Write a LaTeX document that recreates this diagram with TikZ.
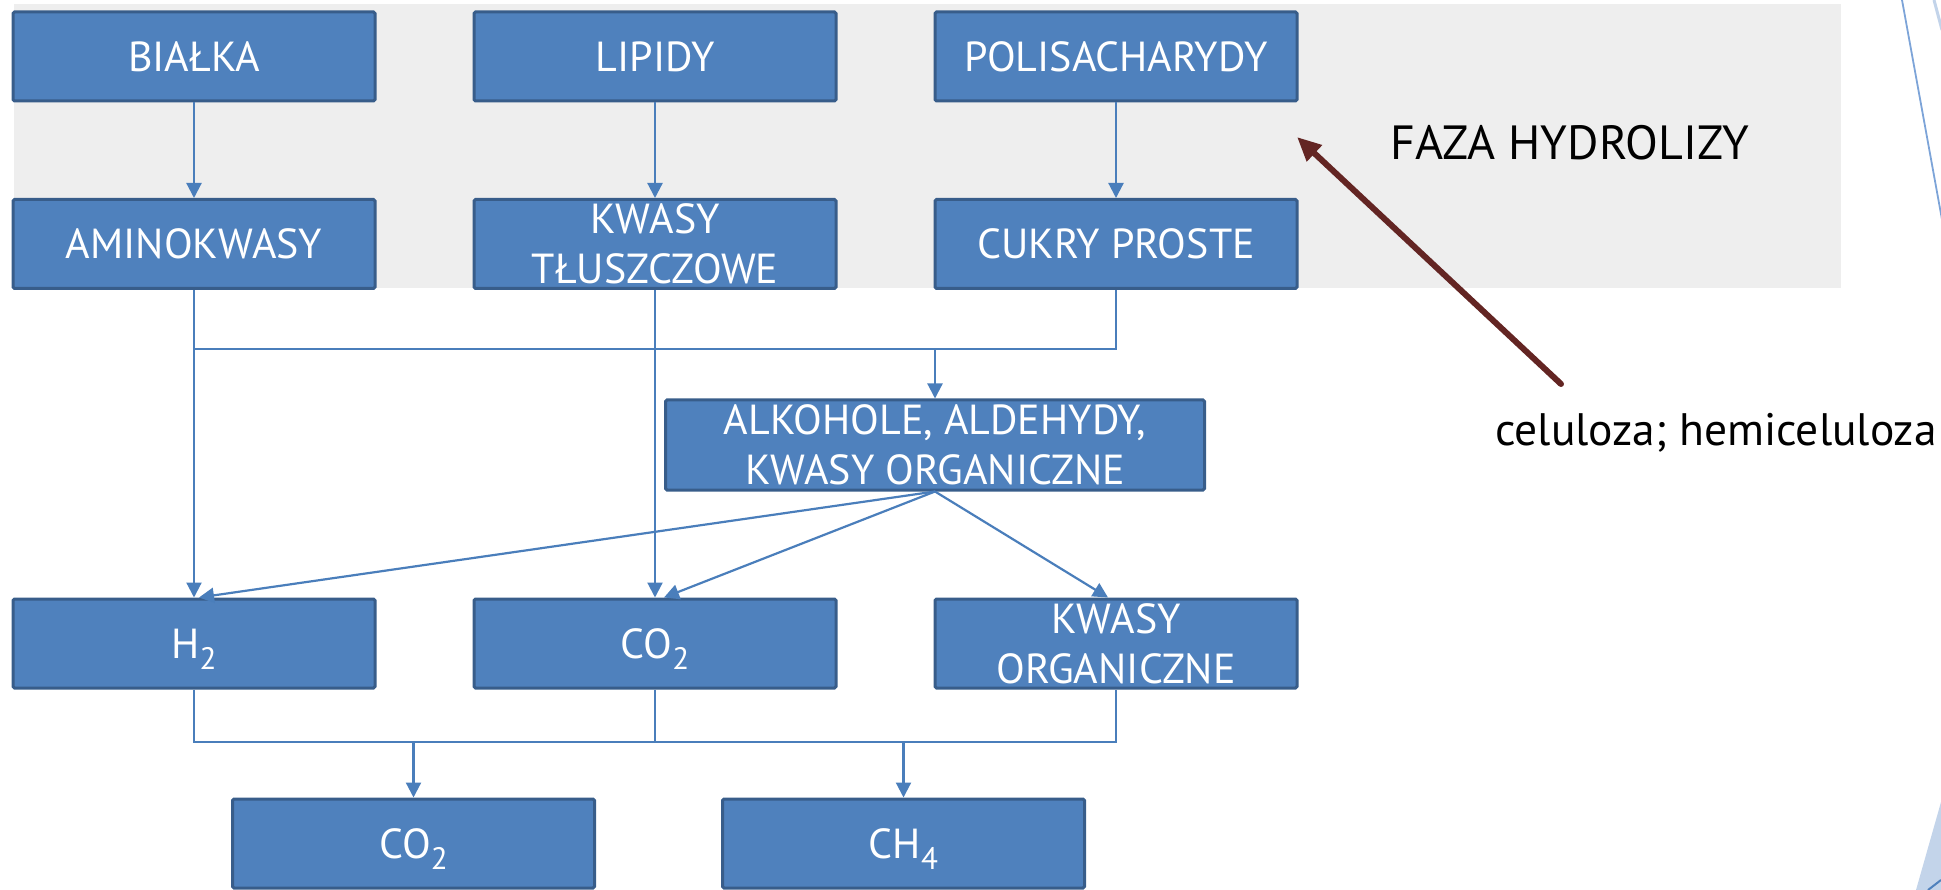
\documentclass[tikz,border=0pt]{standalone}
\usepackage{fontspec}
\setmainfont{PT Sans}
\usetikzlibrary{arrows.meta}
\definecolor{boxfill}{HTML}{4F81BD}
\definecolor{boxline}{HTML}{385D8A}
\definecolor{connc}{HTML}{4A7EBB}
\definecolor{bandgray}{HTML}{EEEEEE}
\definecolor{brownc}{HTML}{632523}
\definecolor{decoblue}{HTML}{7DA4D8}
\definecolor{lightdeco}{HTML}{C3D4EA}
\newcommand\boxfont{\fontsize{42}{50}\selectfont}
\newcommand\chemsub[1]{\raisebox{-11pt}[0pt][0pt]{\fontsize{31}{31}\selectfont #1}}
\tikzset{
  box/.style={draw=boxline, fill=boxfill, line width=3pt, rounded corners=1.5pt,
    minimum width=362pt, minimum height=89pt, inner sep=0pt, text=white,
    font=\boxfont, align=center},
  conn/.style={draw=connc, line width=2.2pt},
  arr/.style={conn, -{Triangle[length=15pt,width=15pt]}},
  brownarr/.style={draw=brownc, line width=6pt, line cap=round,
    -{Triangle[length=24pt,width=21pt]}},
  sidetext/.style={text=black, inner sep=0pt}
}
\begin{document}
\begin{tikzpicture}[x=1pt,y=-1pt]
\useasboundingbox (0,0) rectangle (1941,890);
% background band
\fill[bandgray] (14,4) rectangle (1841,288);
% decorations at right edge
\draw[decoblue, line width=1.8pt] (1902,0) -- (1943,225);
\draw[lightdeco, line width=3pt] (1934,0) -- (1942,30);
\fill[lightdeco] (1941,802) -- (1916,890) -- (1941,890) -- cycle;
\draw[boxfill, line width=2pt] (1928,890) -- (1941,880);

% boxes
\node[box] (bialka) at (194,56.5) {BIAŁKA};
\node[box] (lipidy) at (655,56.5) {LIPIDY};
\node[box] (polisach) at (1116,56.5) {POLISACHARYDY};
\node[box] (amino) at (194,244) {AMINOKWASY};
\node[box] (kt) at (655,244) {KWASY\\TŁUSZCZOWE};
\node[box] (cukry) at (1116,244) {CUKRY PROSTE};
\node[box, minimum width=539pt, minimum height=90pt] (alk) at (935,445) {ALKOHOLE, ALDEHYDY,\\KWASY ORGANICZNE};
\node[box] (h2) at (194,643.5) {H\chemsub{2}};
\node[box] (co2a) at (655,643.5) {CO\chemsub{2}};
\node[box] (ko) at (1116,643.5) {KWASY\\ORGANICZNE};
\node[box] (co2b) at (413.5,843.5) {CO\chemsub{2}};
\node[box] (ch4) at (903.5,843.5) {CH\chemsub{4}};

% connectors
\draw[arr] (bialka.south) -- (amino.north);
\draw[arr] (lipidy.south) -- (kt.north);
\draw[arr] (polisach.south) -- (cukry.north);
\coordinate (j1) at (194,349);
\draw[arr] (amino.south) -- (h2.north);
\draw[conn] (j1) -- (j1 -| cukry.south) -- (cukry.south);
\draw[arr] (j1 -| alk.north) -- (alk.north);
\draw[arr] (kt.south) -- (co2a.north);
\draw[arr] (alk.south) -- ([xshift=5pt]h2.north);
\draw[arr] (alk.south) -- ([xshift=9pt]co2a.north);
\draw[arr] (alk.south) -- ([xshift=-8pt]ko.north);
\coordinate (j2) at (194,742);
\draw[conn] (h2.south) -- (j2) -- (j2 -| ko.south) -- (ko.south);
\draw[conn] (co2a.south) -- (co2a.south |- j2);
\draw[arr] (j2 -| co2b.north) -- (co2b.north);
\draw[arr] (j2 -| ch4.north) -- (ch4.north);

% side labels
\node[sidetext, anchor=base west, font=\fontsize{48}{48}\selectfont] (faza) at (1390,160) {FAZA HYDROLIZY};
\node[sidetext, anchor=base west, font=\fontsize{45.5}{45.5}\selectfont] (cel) at (1495,445) {celuloza; hemiceluloza};
\coordinate (celtail) at (1561,384);
\coordinate (celtip) at (1297,137);
\draw[brownarr] (celtail) -- (celtip);
\end{tikzpicture}
\end{document}
